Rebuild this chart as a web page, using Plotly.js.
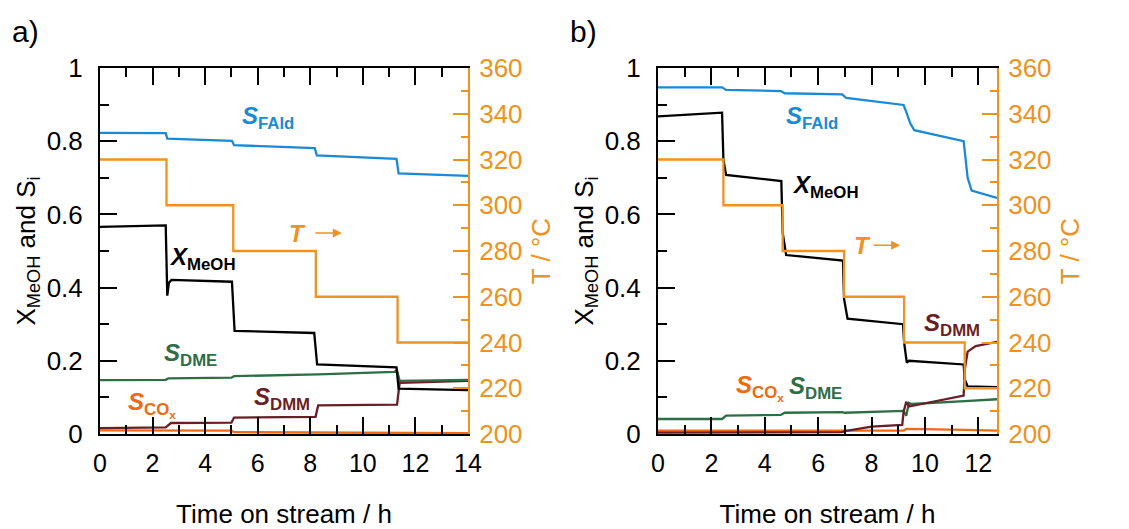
<!DOCTYPE html>
<html>
<head>
<meta charset="utf-8">
<script src="https://cdn.plot.ly/plotly-3.0.1.min.js"></script>
<style>html,body{margin:0;padding:0;background:#fff;}#chart{width:1129px;height:529px;}</style>
</head>
<body>
<div id="chart"></div>
<script>
// ---------- Panel a data ----------
const tA_FAld = [0, 2.5, 2.56, 5.02, 5.1, 8.17, 8.25, 11.28, 11.36, 14];
const sFAld_A = [0.823, 0.822, 0.807, 0.801, 0.789, 0.781, 0.761, 0.752, 0.712, 0.705];
const tA_X = [0, 2.5, 2.56, 2.62, 2.72, 5.02, 5.12, 8.15, 8.26, 11.28, 11.36, 14];
const xMeOH_A = [0.566, 0.57, 0.378, 0.413, 0.421, 0.416, 0.282, 0.276, 0.19, 0.182, 0.124, 0.12];
const tA_DME = [0, 2.5, 2.6, 5.0, 5.1, 8.2, 8.3, 11.2, 11.3, 11.4, 14];
const sDME_A = [0.147, 0.148, 0.152, 0.154, 0.158, 0.162, 0.163, 0.17, 0.174, 0.145, 0.148];
const tA_DMM = [0, 2.5, 2.7, 5.0, 5.1, 8.2, 8.3, 11.3, 11.4, 14];
const sDMM_A = [0.016, 0.018, 0.03, 0.031, 0.045, 0.047, 0.078, 0.08, 0.14, 0.145];
const tA_COx = [0, 5.0, 5.1, 8.2, 8.3, 14];
const sCOx_A = [0.01, 0.009, 0.005, 0.004, 0.002, 0.002];
const tA_T = [0, 2.53, 5.07, 8.21, 11.32, 14];
const temp_A = [320, 300, 280, 260, 240, 240];

// ---------- Panel b data ----------
const tB_FAld = [0, 2.4, 2.55, 4.6, 4.75, 6.9, 7.05, 8.0, 9.2, 9.3, 9.45, 9.6, 11.45, 11.6, 11.75, 12.7];
const sFAld_B = [0.947, 0.947, 0.94, 0.937, 0.931, 0.928, 0.918, 0.91, 0.899, 0.88, 0.849, 0.83, 0.80, 0.70, 0.665, 0.645];
const tB_X = [0, 2.4, 2.45, 2.55, 4.62, 4.67, 4.8, 6.93, 6.97, 7.1, 9.18, 9.22, 9.32, 9.4, 11.45, 11.49, 11.6, 12.7];
const xMeOH_B = [0.868, 0.878, 0.75, 0.708, 0.691, 0.55, 0.489, 0.474, 0.37, 0.315, 0.30, 0.25, 0.195, 0.2, 0.19, 0.15, 0.13, 0.128];
const tB_DME = [0, 2.4, 2.55, 4.6, 4.75, 6.9, 7.0, 9.2, 9.3, 9.4, 9.5, 11.4, 11.5, 12.7];
const sDME_B = [0.041, 0.041, 0.05, 0.052, 0.058, 0.06, 0.058, 0.063, 0.05, 0.085, 0.082, 0.088, 0.09, 0.095];
const tB_DMM = [0, 6.9, 7.0, 8.0, 9.15, 9.2, 9.3, 9.4, 11.45, 11.5, 11.6, 11.9, 12.7];
const sDMM_B = [0.004, 0.005, 0.008, 0.02, 0.025, 0.06, 0.088, 0.075, 0.105, 0.18, 0.225, 0.24, 0.252];
const tB_COx = [0, 9.2, 9.3, 11.0, 11.5, 12.7];
const sCOx_B = [0.009, 0.009, 0.014, 0.013, 0.011, 0.009];
const tB_T = [0, 2.45, 4.67, 6.97, 9.22, 11.49, 12.7];
const temp_B = [320, 300, 280, 260, 240, 220, 220];

const xTicks = [0, 2, 4, 6, 8, 10, 12, 14];

// ---------- styles ----------
const C_FALD = '#1A8AD4', C_X = '#000000', C_DME = '#2E6E46', C_DMM = '#6B1E26', C_COX = '#F06A10', C_T = '#EE9220';
const FONT = 'Liberation Sans, Arial, sans-serif';

function line(x, y, color, xa, ya, shape) {
  return {x: x, y: y, type: 'scatter', mode: 'lines', xaxis: xa, yaxis: ya,
          line: {color: color, width: 2.3, shape: shape || 'linear'}, hoverinfo: 'skip', showlegend: false};
}

const data = [
  line(tA_T, temp_A, C_T, 'x', 'y2', 'hv'),
  line(tA_COx, sCOx_A, C_COX, 'x', 'y'),
  line(tA_DMM, sDMM_A, C_DMM, 'x', 'y'),
  line(tA_DME, sDME_A, C_DME, 'x', 'y'),
  line(tA_X, xMeOH_A, C_X, 'x', 'y'),
  line(tA_FAld, sFAld_A, C_FALD, 'x', 'y'),
  line(tB_T, temp_B, C_T, 'x2', 'y4', 'hv'),
  line(tB_COx, sCOx_B, C_COX, 'x2', 'y3'),
  line(tB_DME, sDME_B, C_DME, 'x2', 'y3'),
  line(tB_DMM, sDMM_B, C_DMM, 'x2', 'y3'),
  line(tB_X, xMeOH_B, C_X, 'x2', 'y3'),
  line(tB_FAld, sFAld_B, C_FALD, 'x2', 'y3')
];

const W = 1129, H = 529;
const yDom = [(H - 434) / H, (H - 68) / H];

function xAxis(dom, range, anchor) {
  return {domain: dom, range: range, anchor: anchor, tickvals: xTicks, ticks: 'inside', ticklen: 17, tickwidth: 2,
          tickcolor: '#000', showline: true, linecolor: '#000', linewidth: 2, mirror: 'ticks', showgrid: false, zeroline: false,
          minor: {dtick: 1, ticks: 'inside', ticklen: 9, tickwidth: 2, tickcolor: '#000', showgrid: false},
          tickfont: {family: FONT, size: 25, color: '#000'}, ticklabelstandoff: 6,
          title: {text: 'Time on stream / h', font: {family: FONT, size: 26, color: '#000'}, standoff: 33}};
}
function yLeft(anchor) {
  return {domain: yDom, range: [0, 1], anchor: anchor, dtick: 0.2, ticks: 'inside', ticklen: 17, tickwidth: 2,
          tickcolor: '#000', showline: true, linecolor: '#000', linewidth: 2, showgrid: false, zeroline: false,
          minor: {dtick: 0.1, ticks: 'inside', ticklen: 9, tickwidth: 2, tickcolor: '#000', showgrid: false},
          tickfont: {family: FONT, size: 26, color: '#000'}, ticklabelstandoff: 10,
          title: {text: 'X<sub>MeOH</sub> and S<sub>i</sub>', font: {family: FONT, size: 26, color: '#000'}, standoff: 4}};
}
function yRight(anchor, over) {
  return {domain: yDom, range: [200, 360], anchor: anchor, overlaying: over, side: 'right', dtick: 20, ticks: 'inside',
          ticklen: 15, tickwidth: 2, tickcolor: C_T, showline: true, linecolor: C_T, linewidth: 2, showgrid: false, zeroline: false,
          minor: {dtick: 10, ticks: 'inside', ticklen: 7, tickwidth: 2, tickcolor: C_T, showgrid: false},
          tickfont: {family: FONT, size: 26, color: C_T}, ticklabelstandoff: 4,
          title: {text: 'T / °C', font: {family: FONT, size: 26, color: C_T}, standoff: 10}};
}

function lab(text, x, y, color, xr, yr) {
  return {text: text, x: x, y: y, xref: xr, yref: yr, showarrow: false, xanchor: 'center', yanchor: 'middle',
          font: {family: FONT, size: 24, color: color}};
}
function arrow(x, y, xr, yr) {
  return {text: '', x: x, y: y, xref: xr, yref: yr, showarrow: true, ax: -28, ay: 0, arrowhead: 2, arrowsize: 1.2,
          arrowwidth: 1.5, arrowcolor: C_T};
}

const layout = {
  width: W, height: H, margin: {l: 0, r: 0, t: 0, b: 0}, paper_bgcolor: '#fff', plot_bgcolor: 'rgba(0,0,0,0)',
  font: {family: FONT},
  xaxis: xAxis([100 / W, 468 / W], [0, 14], 'y'),
  yaxis: yLeft('x'),
  yaxis2: yRight('x', 'y'),
  xaxis2: xAxis([658 / W, 997 / W], [0, 12.7], 'y3'),
  yaxis3: yLeft('x2'),
  yaxis4: yRight('x2', 'y3'),
  annotations: [
    {text: 'a)', x: 10 / W, y: (H - 31) / H, xref: 'paper', yref: 'paper', xanchor: 'left', yanchor: 'middle', showarrow: false,
     font: {family: FONT, size: 30, color: '#000'}},
    {text: 'b)', x: 568 / W, y: (H - 31) / H, xref: 'paper', yref: 'paper', xanchor: 'left', yanchor: 'middle', showarrow: false,
     font: {family: FONT, size: 30, color: '#000'}},
    lab('<b><i>S</i><sub>FAld</sub></b>', 6.4, 0.865, C_FALD, 'x', 'y'),
    lab('<b><i>X</i><sub>MeOH</sub></b>', 3.9, 0.48, C_X, 'x', 'y'),
    lab('<b><i>T</i></b>', 7.5, 0.549, C_T, 'x', 'y'),
    arrow(9.2, 0.549, 'x', 'y'),
    lab('<b><i>S</i><sub>DME</sub></b>', 3.46, 0.216, C_DME, 'x', 'y'),
    lab('<b><i>S</i><sub>CO<sub>x</sub></sub></b>', 1.97, 0.08, C_COX, 'x', 'y'),
    lab('<b><i>S</i><sub>DMM</sub></b>', 6.93, 0.098, C_DMM, 'x', 'y'),
    lab('<b><i>S</i><sub>FAld</sub></b>', 5.78, 0.865, C_FALD, 'x2', 'y3'),
    lab('<b><i>X</i><sub>MeOH</sub></b>', 6.26, 0.675, C_X, 'x2', 'y3'),
    lab('<b><i>T</i></b>', 7.65, 0.516, C_T, 'x2', 'y3'),
    arrow(9.07, 0.516, 'x2', 'y3'),
    lab('<b><i>S</i><sub>DMM</sub></b>', 11.0, 0.298, C_DMM, 'x2', 'y3'),
    lab('<b><i>S</i><sub>CO<sub>x</sub></sub></b>', 3.83, 0.126, C_COX, 'x2', 'y3'),
    lab('<b><i>S</i><sub>DME</sub></b>', 5.9, 0.126, C_DME, 'x2', 'y3')
  ]
};

Plotly.newPlot('chart', data, layout, {displayModeBar: false, staticPlot: true});
</script>
</body>
</html>
